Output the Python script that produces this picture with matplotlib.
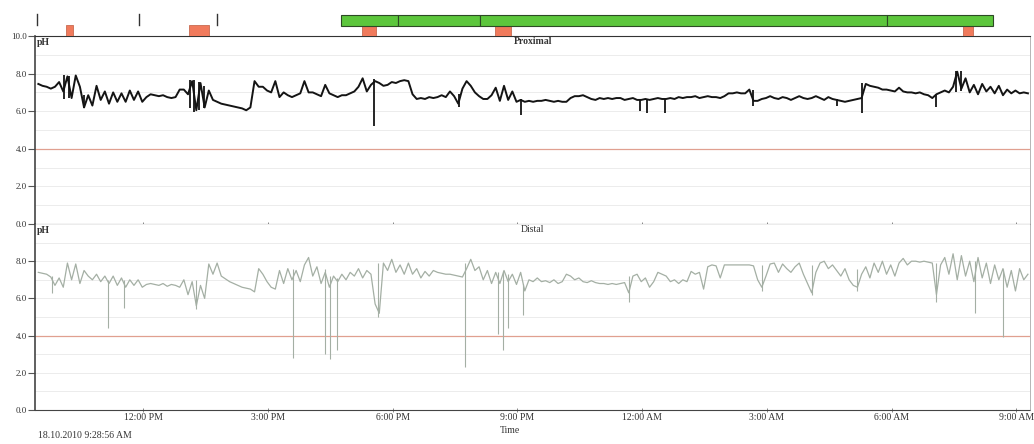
import numpy as np
import matplotlib
matplotlib.use('Agg')
import matplotlib.pyplot as plt
from matplotlib.patches import Rectangle

plt.rcParams['font.family'] = ['Liberation Serif', 'DejaVu Serif']

## Recording: 18.10.2010 from 9:28:56 AM, one reading every 6 min (hours of day, >24 = next day)
start_hour = 9.48
step_hour = 0.1

proximal_ph = [
    7.45, 7.35, 7.3, 7.2, 7.3, 7.55, 7.05, 7.85, 6.7, 7.9,
    7.3, 6.2, 6.85, 6.3, 7.35, 6.6, 7.05, 6.4, 7.0, 6.5,
    6.95, 6.5, 7.1, 6.6, 7.05, 6.5, 6.75, 6.9, 6.85, 6.8,
    6.85, 6.75, 6.7, 6.75, 7.15, 7.15, 6.9, 7.6, 6.05, 7.5,
    6.2, 7.1, 6.6, 6.5, 6.4, 6.35, 6.3, 6.25, 6.2, 6.15,
    6.05, 6.2, 7.6, 7.3, 7.3, 7.1, 7.0, 7.6, 6.75, 7.0,
    6.85, 6.75, 6.85, 6.95, 7.6, 7.0, 7.0, 6.9, 6.8, 7.4,
    6.95, 6.85, 6.75, 6.85, 6.85, 6.95, 7.05, 7.3, 7.75, 7.05,
    7.4, 7.6, 7.5, 7.35, 7.4, 7.55, 7.5, 7.6, 7.65, 7.6,
    6.9, 6.65, 6.7, 6.65, 6.75, 6.7, 6.75, 6.85, 6.75, 7.05,
    6.8, 6.4, 7.2, 7.6, 7.35, 7.0, 6.8, 6.65, 6.65, 6.85,
    7.25, 6.55, 7.35, 6.6, 7.05, 6.5, 6.6, 6.5, 6.55, 6.5,
    6.55, 6.55, 6.6, 6.55, 6.5, 6.55, 6.5, 6.5, 6.7, 6.8,
    6.8, 6.85, 6.75, 6.65, 6.6, 6.7, 6.65, 6.7, 6.65, 6.7,
    6.7, 6.6, 6.65, 6.7, 6.6, 6.6, 6.65, 6.6, 6.65, 6.7,
    6.65, 6.65, 6.7, 6.65, 6.75, 6.7, 6.75, 6.75, 6.8, 6.7,
    6.75, 6.8, 6.75, 6.75, 6.7, 6.8, 6.95, 6.95, 7.0, 6.95,
    6.95, 7.15, 6.55, 6.55, 6.65, 6.7, 6.8, 6.7, 6.65, 6.75,
    6.7, 6.6, 6.7, 6.8, 6.7, 6.65, 6.7, 6.8, 6.7, 6.6,
    6.75, 6.65, 6.6, 6.55, 6.5, 6.55, 6.6, 6.65, 6.7, 7.45,
    7.35, 7.3, 7.25, 7.15, 7.15, 7.1, 7.05, 7.25, 7.05, 7.0,
    7.0, 6.95, 7.0, 6.9, 6.85, 6.7, 6.9, 7.0, 7.1, 7.0,
    7.3, 8.1, 7.2, 7.75, 7.0, 7.4, 6.9, 7.45, 7.05, 7.3,
    6.95, 7.35, 6.85, 7.15, 6.95, 7.1, 6.95, 7.0, 6.95,
]

distal_ph = [
    7.4, 7.35, 7.3, 7.15, 6.7, 7.1, 6.6, 7.9, 7.0, 7.85,
    6.8, 7.5, 7.2, 7.0, 7.3, 6.9, 7.2, 6.8, 7.2, 6.7,
    7.1, 6.6, 7.0, 6.7, 7.0, 6.6, 6.75, 6.8, 6.75, 6.7,
    6.8, 6.65, 6.75, 6.7, 6.6, 7.0, 6.2, 6.9, 5.6, 6.7,
    6.0, 7.85, 7.3, 7.9, 7.2, 7.05, 6.9, 6.8, 6.7, 6.6,
    6.55, 6.5, 6.35, 7.6, 7.3, 6.9, 6.6, 6.5, 7.5, 6.8,
    7.6, 7.0, 7.5, 6.9, 7.8, 8.2, 7.2, 7.7, 6.8, 7.4,
    6.6, 7.2, 6.9, 7.3, 7.0, 7.4, 7.2, 7.6, 7.1, 7.5,
    7.3, 5.7, 5.2, 7.9, 7.5, 8.1, 7.4, 7.8, 7.3, 7.9,
    7.3, 7.6, 7.1, 7.45, 7.2, 7.5, 7.4, 7.35, 7.3, 7.3,
    7.25, 7.2, 7.15, 7.6, 8.1, 7.5, 7.7, 7.0, 7.5, 6.8,
    7.4, 6.8, 7.5, 6.9, 7.3, 6.75, 7.4, 6.4, 7.0, 6.9,
    7.1, 6.9, 6.95, 6.85, 7.0, 6.8, 6.9, 7.3, 7.2, 7.0,
    7.1, 6.9, 6.85, 6.95, 6.85, 6.8, 6.8, 6.75, 6.8, 6.75,
    6.8, 6.85, 6.3, 7.2, 7.3, 6.9, 7.1, 6.6, 6.9, 7.4,
    7.3, 7.2, 6.9, 7.0, 6.8, 7.0, 6.9, 7.45, 7.3, 7.4,
    6.5, 7.7, 7.8, 7.75, 7.1, 7.8, 7.8, 7.8, 7.8, 7.8,
    7.8, 7.8, 7.75, 7.0, 6.6, 7.2, 7.85, 7.9, 7.4, 7.85,
    7.6, 7.4, 7.7, 7.9, 7.3, 6.8, 6.3, 7.4, 7.9, 8.0,
    7.6, 7.8, 7.5, 7.2, 7.6, 7.0, 6.7, 6.6, 7.3, 7.7,
    7.1, 7.9, 7.4, 8.0, 7.3, 7.8, 7.2, 7.9, 8.15, 7.8,
    8.0, 8.0, 7.95, 8.0, 7.95, 7.9, 6.2, 7.8, 8.2, 7.3,
    8.4, 7.0, 8.3, 7.2, 8.0, 6.9, 8.2, 7.1, 7.9, 6.8,
    7.8, 7.0, 7.6, 6.6, 7.5, 6.4, 7.6, 7.0, 7.3,
]

## short excursions between readings (hour, lowest pH, highest pH)
prox_spike_t = [10.10, 10.22, 10.58, 13.12, 13.22, 13.34, 13.46, 17.55, 19.59, 21.08,
                23.94, 24.11, 24.54, 26.66, 28.68, 29.28, 31.06, 31.56, 31.66]
prox_spike_lo = [6.65, 6.7, 6.15, 6.15, 5.95, 6.05, 6.15, 5.2, 6.2, 5.8,
                 6.0, 5.9, 5.9, 6.25, 6.25, 5.9, 6.2, 7.0, 7.1]
prox_spike_hi = [7.95, 7.85, 6.85, 7.65, 7.65, 7.55, 7.35, 7.7, 6.9, 6.65,
                 6.6, 6.65, 6.65, 7.15, 6.65, 7.5, 6.9, 8.15, 8.15]

dist_spike_t = [9.81, 11.155, 11.54, 13.27, 15.60, 16.37, 16.49, 16.66, 17.645, 19.74,
                20.53, 20.65, 20.77, 21.13, 23.68, 26.88, 28.08, 29.16, 31.08, 32.0, 32.67]
dist_spike_lo = [6.3, 4.4, 5.5, 5.45, 2.8, 3.0, 2.75, 3.2, 5.0, 2.3,
                 4.1, 3.2, 4.4, 5.1, 5.8, 6.4, 6.2, 6.4, 5.8, 5.2, 3.9]
dist_spike_hi = [7.2, 7.0, 7.0, 7.0, 7.6, 7.6, 7.2, 7.1, 7.9, 7.9,
                 7.4, 7.5, 7.3, 6.8, 7.2, 7.8, 7.8, 7.6, 7.9, 8.0, 7.6]

## event markers above the chart
marker_t = [9.45, 11.90, 13.78]
orange_start = [10.15, 13.11, 17.26, 20.46, 31.71]
orange_end = [10.32, 13.59, 17.60, 20.85, 31.95]
green_edges = [16.76, 18.13, 20.10, 29.88, 32.43]

ph_threshold = 4.0
x_ticks = [12, 15, 18, 21, 24, 27, 30, 33]
x_labels = ['12:00 PM', '3:00 PM', '6:00 PM', '9:00 PM', '12:00 AM', '3:00 AM', '6:00 AM', '9:00 AM']
top_y_ticks = [0, 2, 4, 6, 8, 10]
top_y_labels = ['0.0', '2.0', '4.0', '6.0', '8.0', '10.0']
bot_y_ticks = [0, 2, 4, 6, 8]
bot_y_labels = ['0.0', '2.0', '4.0', '6.0', '8.0']
xlim = (9.40, 33.33)

##Figure
W, H = 1034, 444
fig = plt.figure(figsize=(W / 100, H / 100), dpi=100)
left, width = 35 / W, 995 / W
ax_top = fig.add_axes([left, 1 - 224 / H, width, 188 / H])
ax_bot = fig.add_axes([left, 1 - 410 / H, width, 186 / H])
ax_ev = fig.add_axes([left, 1 - 36 / H, width, 28 / H])

prox_t = start_hour + step_hour * np.arange(len(proximal_ph))
dist_t = start_hour + step_hour * np.arange(len(distal_ph))

for ax, yt, yl in ((ax_top, top_y_ticks, top_y_labels), (ax_bot, bot_y_ticks, bot_y_labels)):
    ax.set_xlim(*xlim)
    ax.set_ylim(0, 10)
    ax.set_yticks(yt)
    ax.set_yticklabels(yl)
    ax.set_yticks(range(11), minor=True)
    ax.grid(True, which='both', axis='y', color='#ececec', lw=0.7)
    ax.set_axisbelow(True)
    ax.set_xticks(x_ticks)
    ax.tick_params(axis='y', which='major', length=5, width=0.8, color='#555',
                   labelsize=6.5, labelcolor='#333', pad=1)
    ax.tick_params(axis='y', which='minor', length=0)
    ax.tick_params(axis='x', length=3, width=0.6, direction='inout', color='#777',
                   labelsize=7, labelcolor='#333', pad=1)
    ax.spines['left'].set_color('#444')
    ax.spines['left'].set_linewidth(1.2)
    ax.spines['right'].set_color('#aaa')
    ax.spines['right'].set_linewidth(0.6)
    ax.spines['bottom'].set_linestyle((0, (1, 1)))
    ax.spines['bottom'].set_color('#444')
    ax.spines['bottom'].set_linewidth(0.8)
    ax.axhline(ph_threshold, color='#e0a090', lw=0.9, zorder=1)
    ax.text(0.002, 0.99, 'pH', transform=ax.transAxes, ha='left', va='top',
            fontsize=7, fontweight='bold', color='#333')

ax_top.spines['top'].set_color('#333')
ax_top.tick_params(axis='x', labelbottom=False)
ax_bot.spines['top'].set_visible(False)
ax_bot.set_xticklabels(x_labels)

ax_top.plot(prox_t, proximal_ph, color='#141414', lw=1.4, zorder=3)
ax_top.vlines(prox_spike_t, prox_spike_lo, prox_spike_hi, color='#141414', lw=1.3, zorder=3)
ax_bot.plot(dist_t, distal_ph, color='#a4afa4', lw=0.9, zorder=3)
ax_bot.vlines(dist_spike_t, dist_spike_lo, dist_spike_hi, color='#a4afa4', lw=0.8, zorder=3)

ax_top.text(0.5, 0.995, 'Proximal', transform=ax_top.transAxes, ha='center', va='top',
            fontsize=7, fontweight='bold', color='#333')
ax_bot.text(0.5, 0.995, 'Distal', transform=ax_bot.transAxes, ha='center', va='top',
            fontsize=7, color='#333')

##Event strip
ax_ev.set_xlim(*xlim)
ax_ev.set_ylim(0, 28)
ax_ev.axis('off')
for t in marker_t:
    ax_ev.plot([t, t], [11, 22], color='#333', lw=1.0)
for s, e in zip(orange_start, orange_end):
    ax_ev.add_patch(Rectangle((s, 0), e - s, 10.5, facecolor='#f07a5c', edgecolor='#c86a50', lw=0.6))
for s, e in zip(green_edges[:-1], green_edges[1:]):
    ax_ev.add_patch(Rectangle((s, 10.5), e - s, 10.5, facecolor='#5cc63c', edgecolor='#2d4a25', lw=0.8))

fig.text(510 / W, 1 - 430 / H, 'Time', ha='center', va='center', fontsize=7, color='#333')
fig.text(38 / W, 1 - 435 / H, '18.10.2010 9:28:56 AM', ha='left', va='center', fontsize=7, color='#333')

fig.savefig('out.png', dpi=100)
